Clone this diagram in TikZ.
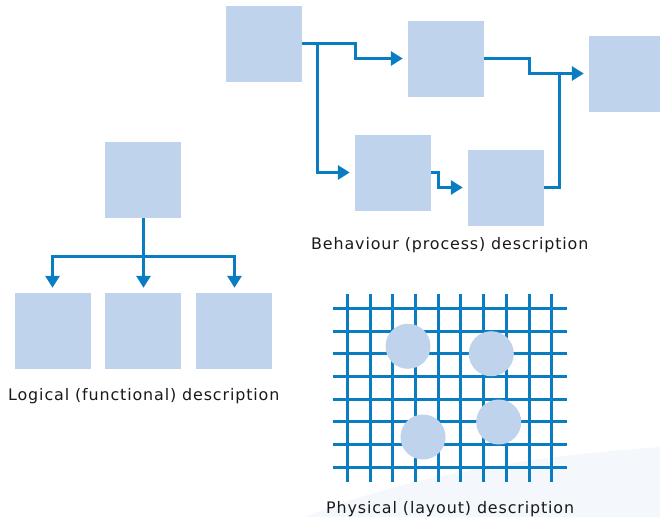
\documentclass[tikz,border=0pt]{standalone}
\usepackage{fontspec}
\setmainfont{DejaVu Sans}[LetterSpace=5.5]
\usetikzlibrary{arrows.meta}
\definecolor{boxblue}{HTML}{BFD3EC}
\definecolor{lineblue}{HTML}{0A7DC2}
\definecolor{swoosh}{HTML}{F4F8FC}
\tikzset{
  blk/.style={rectangle, fill=boxblue, inner sep=0pt, minimum width=76pt, minimum height=76pt},
  conn/.style={draw=lineblue, line width=3pt, line join=miter},
  arr/.style={conn, -{Triangle[length=12pt,width=14pt]}, shorten >=5pt},
  gridline/.style={draw=lineblue, line width=3pt},
  chip/.style={circle, fill=boxblue, inner sep=0pt, minimum size=45pt},
  captext/.style={anchor=base west, inner sep=0pt, font=\fontsize{15.9}{18}\selectfont, text=black!90}
}
\begin{document}
\begin{tikzpicture}[x=1pt,y=-1pt]
\useasboundingbox (0,0) rectangle (660,517);
% faint background swoosh
\fill[swoosh] (305,517) .. controls (400,478) and (520,457) .. (660,447) -- (660,517) -- cycle;

% behaviour (process) description
\node[blk] (A) at (264,44) {};
\node[blk] (B) at (446,59) {};
\node[blk] (C) at (627,74) {};
\node[blk] (D) at (393,173) {};
\node[blk] (E) at (506,188) {};
\coordinate (split) at (317.5,43.5);
\coordinate (join) at (559.5,73.5);
\draw[conn] (A.east |- split) -- (split);
\draw[arr] (split) -- (355.5,43.5) |- (B.west |- 0,58.5);
\draw[arr] (split) |- (D.west |- 0,172.5);
\draw[arr] (D.east |- 0,172.5) -- (438.5,172.5) |- (E.west |- 0,187.5);
\draw[arr] (B.east |- 0,58.5) -- (529.5,58.5) |- (C.west |- join);
\draw[conn] (E.east |- 0,187.5) -| (join);
\node[captext] (tb) at (311,249) {Behaviour (process) description};

% logical (functional) description
\node[blk] (T) at (143,180) {};
\node[blk] (L1) at (53,331) {};
\node[blk] (L2) at (143,331) {};
\node[blk] (L3) at (234,331) {};
\coordinate (hub) at (143.5,256.5);
\draw[arr] (T.south -| hub) -- (L2.north -| hub);
\draw[arr] (hub) -| (52.5,0 |- L1.north);
\draw[arr] (hub) -| (234.5,0 |- L3.north);
\node[captext] (tl) at (8,400.3) {Logical (functional) description};

% physical (layout) description
\foreach \x in {347.5,370.5,392.5,415.5,438.5,460.5,483.5,506.5,529.5,551.5} {
  \draw[gridline] (\x,293.5) -- (\x,481.5);
}
\foreach \y in {308.5,331.5,353.5,376.5,399.5,421.5,444.5,467.5} {
  \draw[gridline] (332.5,\y) -- (566.5,\y);
}
\node[chip] (c1) at (408,346.3) {};
\node[chip] (c2) at (491.3,353.7) {};
\node[chip] (c3) at (423,437) {};
\node[chip] (c4) at (498.7,422) {};
\node[captext] (tp) at (326,513) {Physical (layout) description};
\end{tikzpicture}
\end{document}
